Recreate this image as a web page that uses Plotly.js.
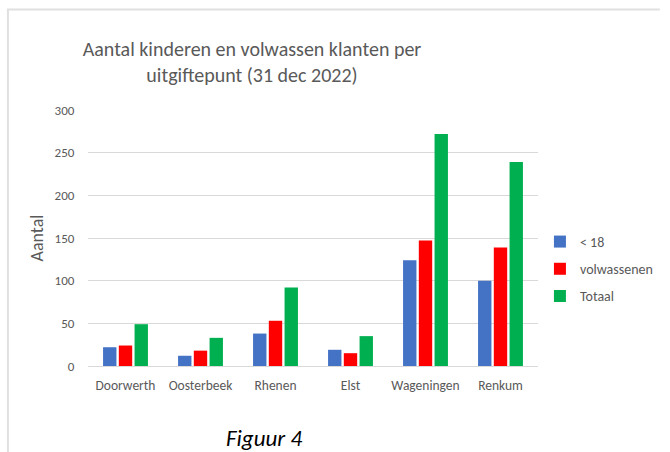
<!DOCTYPE html>
<html>
<head>
<meta charset="utf-8">
<script src="https://cdn.plot.ly/plotly-3.0.1.min.js"></script>
<style>
  html, body { margin: 0; padding: 0; background: #ffffff; }
  #chart { width: 670px; height: 452px; }
</style>
</head>
<body>
<div id="chart"></div>
<script>
const categories = ["Doorwerth", "Oosterbeek", "Rhenen", "Elst", "Wageningen", "Renkum"];
const under18 = [22, 12, 38, 19, 124, 100];
const volwassenen = [24, 18, 53, 15, 147, 139];
const totaal = [49, 33, 92, 35, 272, 239];
const seriesNames = ["< 18", "volwassenen", "Totaal"];
const yTicks = [0, 50, 100, 150, 200, 250, 300];

const FONT = "Carlito, Calibri, Lato, 'Open Sans', sans-serif";
const GREY = "#595959";
const colors = ["#4472C4", "#FF0000", "#00B050"];
const values = [under18, volwassenen, totaal];

const data = values.map((v, i) => ({
  type: "bar",
  x: categories,
  y: v,
  name: seriesNames[i],
  legendgroup: "g" + i,
  marker: { color: colors[i], line: { width: 0 } },
  hoverinfo: "x+y+name"
}));

const layout = {
  width: 670,
  height: 452,
  paper_bgcolor: "#ffffff",
  plot_bgcolor: "#ffffff",
  margin: { l: 88, r: 124, t: 110, b: 86 },
  font: { family: FONT, color: GREY, size: 12 },
  title: {
    text: "Aantal kinderen en volwassen klanten per<br>uitgiftepunt (31 dec 2022)",
    font: { family: FONT, size: 20, color: GREY },
    xref: "container", x: 252 / 670, xanchor: "center",
    yref: "container", y: 1 - 56 / 452, yanchor: "top"
  },
  barmode: "group",
  bargap: 0.37,
  bargroupgap: 0.15,
  xaxis: {
    type: "category",
    showgrid: false,
    showline: true,
    linecolor: "#d9d9d9",
    linewidth: 1,
    ticks: "outside",
    ticklen: 7,
    tickcolor: "rgba(0,0,0,0)",
    tickfont: { family: FONT, size: 13.5, color: GREY },
    fixedrange: true
  },
  yaxis: {
    range: [0, 300],
    tickvals: yTicks,
    ticktext: yTicks.map(String),
    showgrid: true,
    gridcolor: "#d9d9d9",
    gridwidth: 1,
    zeroline: true,
    zerolinecolor: "#d9d9d9",
    zerolinewidth: 1,
    showline: false,
    ticks: "outside",
    ticklen: 10,
    tickcolor: "rgba(0,0,0,0)",
    tickfont: { family: FONT, size: 13, color: GREY },
    title: { text: "Aantal", font: { family: FONT, size: 18, color: GREY }, standoff: 6 },
    fixedrange: true
  },
  legend: {
    x: 1.0043, xanchor: "left",
    y: 0.379, yanchor: "middle",
    font: { family: FONT, size: 14, color: GREY },
    traceorder: "grouped",
    tracegroupgap: 6,
    bgcolor: "rgba(0,0,0,0)"
  },
  shapes: [
    { type: "line", xref: "paper", yref: "paper", x0: -81.5 / 458, x1: -81.5 / 458, y0: 356.5 / 256, y1: -86 / 256,
      line: { color: "#e0e0e0", width: 2 } },
    { type: "line", xref: "paper", yref: "paper", x0: -82.5 / 458, x1: 582 / 458, y0: 356.5 / 256, y1: 356.5 / 256,
      line: { color: "#e0e0e0", width: 2 } }
  ],
  annotations: [
    { text: "<i>Figuur 4</i>", xref: "paper", yref: "paper", x: 179 / 458, y: -72 / 256,
      xanchor: "center", yanchor: "middle", showarrow: false,
      font: { family: FONT, size: 23, color: "#000000" } }
  ]
};

Plotly.newPlot("chart", data, layout, { displayModeBar: false });
</script>
</body>
</html>
